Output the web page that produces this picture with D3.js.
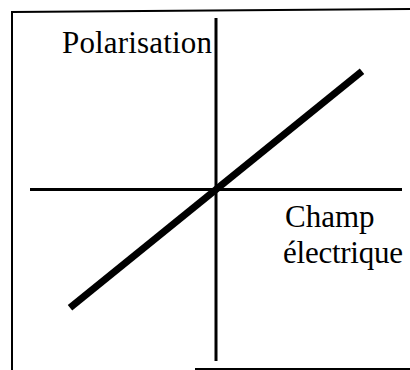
<!DOCTYPE html>
<meta charset="utf-8">
<style>
  body { margin: 0; background: #fff; overflow: hidden; }
  svg { display: block; }
  text { font-family: "Liberation Serif", "Times New Roman", serif; fill: #000; }
</style>

<!-- Load d3.js -->
<script src="https://d3js.org/d3.v7.min.js"></script>

<div id="chart"></div>
<script>

// data: a straight line P = k.E through the origin
var fieldValues = [-0.785, 0.785];
var polarValues = [-0.69, 0.69];
var axisLabels = ["Polarisation", "Champ", "électrique"];

var width = 410,
    height = 370;

var svg = d3.select("#chart")
  .append("svg")
    .attr("width", width)
    .attr("height", height)

// scales (origin in the middle of both axes)
var x = d3.scaleLinear()
  .domain([-1, 1])
  .range([30, 402])

var y = d3.scaleLinear()
  .domain([-1, 1])
  .range([361, 18])

// frame: left and top edges, bottom edge only partly printed
svg.append("path")
    .attr("d", "M12,370 L12,12 L410,9")
    .style("fill", "none")
    .style("stroke", "black")
    .style("stroke-width", 2)

svg.append("line")
    .attr("x1", 195)
    .attr("x2", 410)
    .attr("y1", 369)
    .attr("y2", 369)
    .style("stroke", "black")
    .style("stroke-width", 2)

// horizontal axis (champ)
svg.append("line")
    .attr("x1", x(-1))
    .attr("x2", x(1))
    .attr("y1", y(0))
    .attr("y2", y(0))
    .style("stroke", "black")
    .style("stroke-width", 3)

// vertical axis (polarisation)
svg.append("line")
    .attr("x1", x(0))
    .attr("x2", x(0))
    .attr("y1", y(-1))
    .attr("y2", y(1))
    .style("stroke", "black")
    .style("stroke-width", 3)

// the line itself
var points = fieldValues.map(function(e, i) { return [e, polarValues[i]]; });
svg.append("path")
    .datum(points)
    .attr("d", d3.line()
      .x(function(d) { return x(d[0]) })
      .y(function(d) { return y(d[1]) })
    )
    .style("fill", "none")
    .style("stroke", "black")
    .style("stroke-width", 7)

// labels
svg.append("text")
    .attr("x", 62)
    .attr("y", 53)
    .attr("textLength", 150)
    .style("font-size", "31px")
    .text(axisLabels[0])

svg.append("text")
    .attr("x", 285)
    .attr("y", 227)
    .style("font-size", "31px")
    .text(axisLabels[1])

svg.append("text")
    .attr("x", 283)
    .attr("y", 263)
    .attr("textLength", 120)
    .style("font-size", "31px")
    .text(axisLabels[2])

</script>
